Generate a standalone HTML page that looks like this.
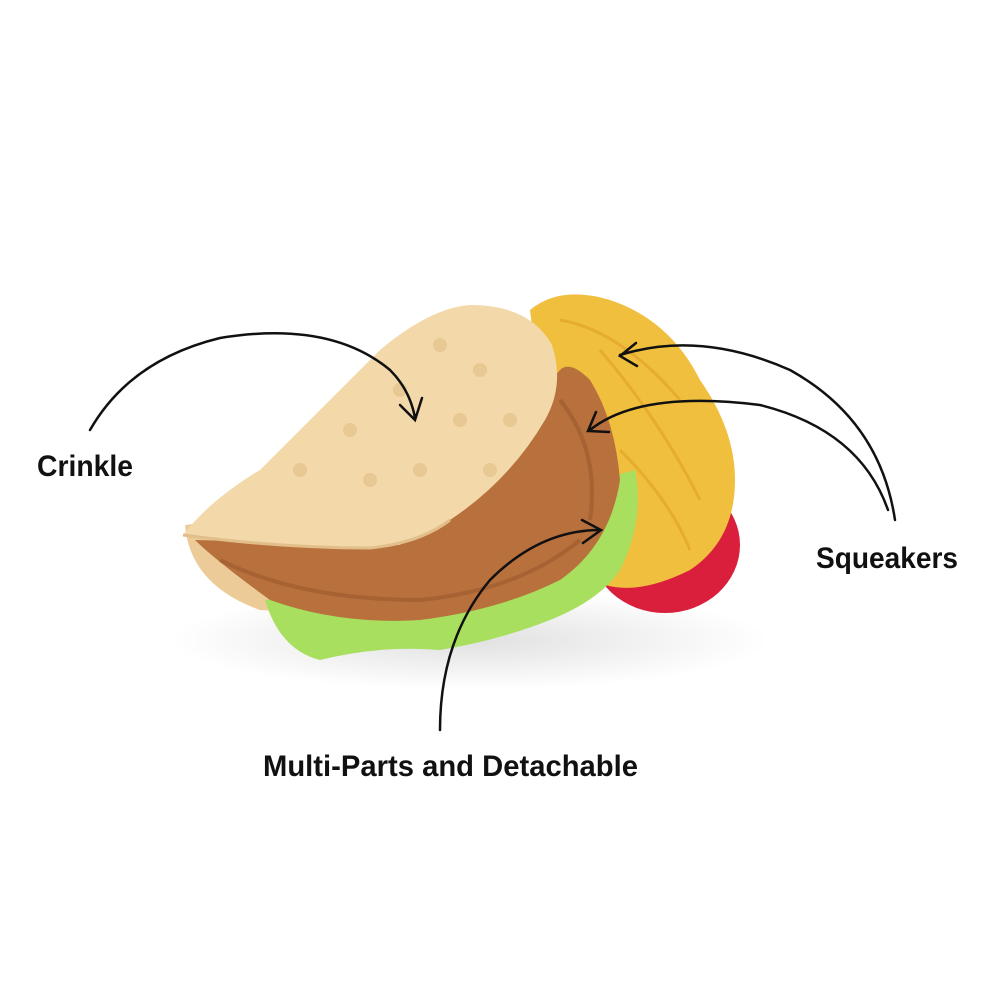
<!DOCTYPE html>
<html><head><meta charset="utf-8"><style>
html,body{margin:0;padding:0;background:#fff;}
svg{display:block;}
text{font-family:"Liberation Sans Narrow","Liberation Sans",sans-serif;font-weight:bold;fill:#111;}
</style></head><body>
<svg width="1000" height="1000" viewBox="0 0 1000 1000">
<defs>
<radialGradient id="sh" cx="50%" cy="50%" r="50%"><stop offset="0" stop-color="#000" stop-opacity=".12"/><stop offset="1" stop-color="#000" stop-opacity="0"/></radialGradient>
</defs>
<ellipse cx="470" cy="640" rx="300" ry="50" fill="url(#sh)"/>
<!-- red disc -->
<ellipse cx="665" cy="545" rx="75" ry="68" fill="#d91f3c"/>
<!-- yellow noodles -->
<path d="M530,310 Q560,285 610,300 Q670,320 700,380 Q735,430 735,480 Q735,540 690,570 Q640,595 605,585 L575,470 Q540,400 530,310Z" fill="#f1bf3e"/>
<path d="M560,320 Q620,330 680,400 M600,350 Q660,420 700,500 M620,450 Q670,500 690,550" stroke="#d99a22" stroke-width="3" fill="none" opacity=".5"/>
<!-- back tortilla shell -->
<path d="M185,525 Q190,585 260,610 L420,620 Q520,605 590,580 L560,480 Z" fill="#eccb98"/>
<!-- lettuce -->
<path d="M265,600 Q280,650 320,660 Q380,645 440,650 Q500,640 550,620 Q600,600 620,570 Q645,520 635,470 L600,480 Q560,540 480,580 Z" fill="#a8df5e"/>
<!-- filling -->
<path d="M195,540 Q215,560 270,600 Q340,625 420,620 Q500,610 560,580 Q610,545 620,480 Q615,420 590,380 Q570,360 560,370 L400,545 Z" fill="#b8703c"/>
<path d="M220,560 Q300,600 420,600 Q520,590 580,540 M560,400 Q600,450 590,520" stroke="#94542a" stroke-width="4" fill="none" opacity=".5"/>
<!-- top tortilla -->
<path d="M183,535 Q210,500 260,470 Q330,400 380,350 Q430,308 470,305 Q530,305 552,345 Q565,385 545,420 Q510,480 450,520 Q420,543 370,548 Q280,548 183,535Z" fill="#f3d8a9"/>
<path d="M183,535 Q280,548 370,548 Q420,543 450,520" stroke="#e2bf8a" stroke-width="3" fill="none"/>
<g fill="#e8c893">
<circle cx="440" cy="345" r="7"/><circle cx="480" cy="370" r="7"/><circle cx="400" cy="390" r="7"/><circle cx="460" cy="420" r="7"/><circle cx="350" cy="430" r="7"/><circle cx="420" cy="470" r="7"/><circle cx="300" cy="470" r="7"/><circle cx="370" cy="480" r="7"/><circle cx="510" cy="420" r="7"/><circle cx="490" cy="470" r="7"/>
</g>
<!-- arrows -->
<g stroke="#111" stroke-width="2.5" fill="none" stroke-linecap="round">
<path d="M90,430 Q130,360 220,338 Q330,320 390,370 Q410,390 415,418"/>
<path d="M400,405 L415,420 L422,398"/>
<path d="M895,520 Q880,420 790,370 Q700,330 620,355"/>
<path d="M636,343 L620,356 L637,366"/>
<path d="M888,510 Q860,430 760,405 Q640,390 590,430"/>
<path d="M596,412 L588,431 L609,432"/>
<path d="M440,730 Q440,640 490,580 Q540,530 600,530"/>
<path d="M582,520 L601,530 L583,543"/>
</g>
<text x="37" y="476" font-size="30" textLength="96" lengthAdjust="spacingAndGlyphs">Crinkle</text>
<text x="816" y="568" font-size="30" textLength="142" lengthAdjust="spacingAndGlyphs">Squeakers</text>
<text x="263" y="776" font-size="30" textLength="375" lengthAdjust="spacingAndGlyphs">Multi-Parts and Detachable</text>
</svg>
</body></html>
